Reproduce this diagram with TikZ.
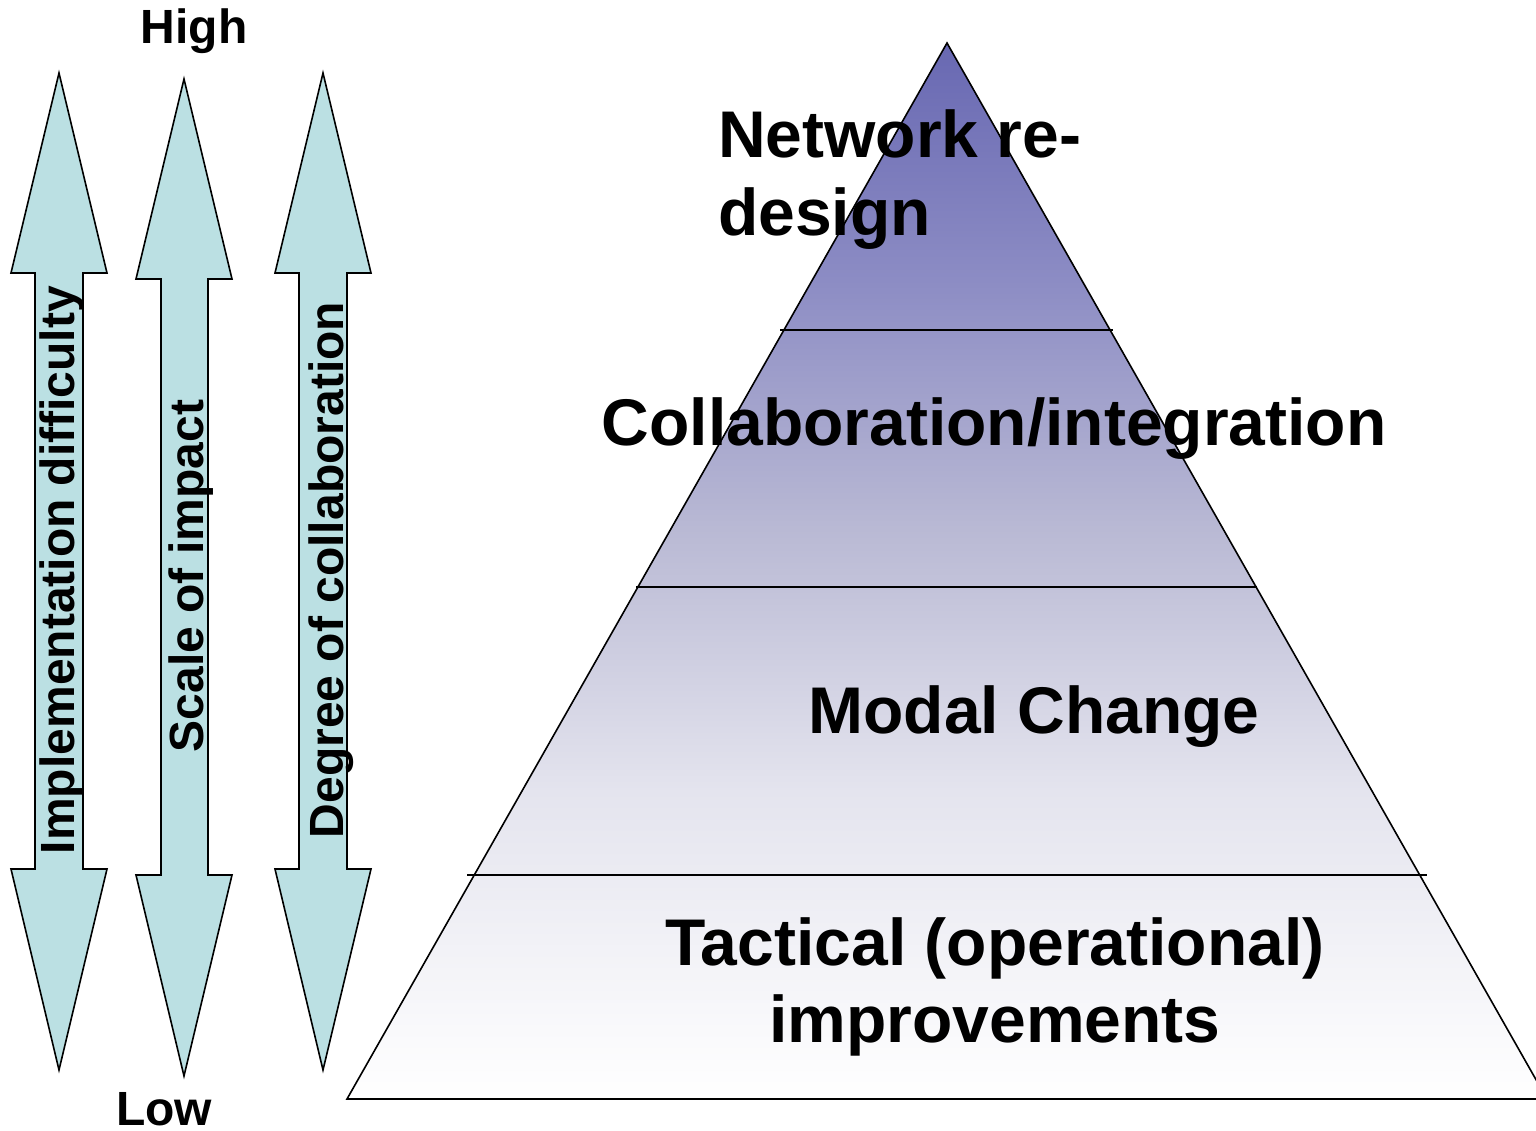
\documentclass[tikz,border=0pt]{standalone}
\usepackage{fontspec}
\setmainfont{Liberation Sans}
\definecolor{arrowfill}{RGB}{187,224,227}
\definecolor{pyrtop}{RGB}{104,104,178}
\definecolor{pyrc1}{RGB}{140,140,196}
\definecolor{pyrc2}{RGB}{185,185,212}
\definecolor{pyrc3}{RGB}{228,228,238}
\pgfdeclareverticalshading{pyrshade}{100bp}{color(0bp)=(white); color(25bp)=(white); color(39.6bp)=(pyrc3); color(52bp)=(pyrc2); color(63.8bp)=(pyrc1); color(75bp)=(pyrtop); color(100bp)=(pyrtop)}
\begin{document}
\begin{tikzpicture}[x=1pt,y=-1pt,
  outline/.style={draw=black,line width=1.6pt,line join=miter},
  dblarrow/.style={outline,fill=arrowfill},
  divider/.style={draw=black,line width=1.4pt},
  bigtext/.style={font=\bfseries\fontsize{66}{78}\selectfont,inner sep=0pt},
  sidetext/.style={font=\bfseries\fontsize{48}{56}\selectfont,inner sep=0pt},
  axistext/.style={sidetext,rotate=90,anchor=base}]
\useasboundingbox (0,0) rectangle (1536,1131);
\clip (0,0) rectangle (1536,1131);
% pyramid
\shade[shading=pyrshade] (947,43) -- (347,1099) -- (1547,1099) -- cycle;
\draw[outline] (947,43) -- (347,1099) -- (1547,1099) -- cycle;
\coordinate (d1a) at (780,330); \coordinate (d1b) at (1113,330);
\coordinate (d2a) at (636,587); \coordinate (d2b) at (1257,587);
\coordinate (d3a) at (467,875); \coordinate (d3b) at (1427,875);
\draw[divider] (d1a) -- (d1b);
\draw[divider] (d2a) -- (d2b);
\draw[divider] (d3a) -- (d3b);
% double arrows
\draw[dblarrow] (59,73) -- (107,273) -- (83,273) -- (83,869) -- (107,869) -- (59,1070) -- (11,869) -- (35,869) -- (35,273) -- (11,273) -- cycle;
\draw[dblarrow] (184,79) -- (232,279) -- (208,279) -- (208,875) -- (232,875) -- (184,1076) -- (136,875) -- (161,875) -- (161,279) -- (136,279) -- cycle;
\draw[dblarrow] (323,73) -- (371,273) -- (347,273) -- (347,869) -- (371,869) -- (323,1070) -- (275,869) -- (299,869) -- (299,273) -- (275,273) -- cycle;
% axis texts
\node[axistext] (impl) at (74,570) {Implementation difficulty};
\node[axistext] (scale) at (203,576) {Scale of impact};
\node[axistext] (degree) at (343,570) {Degree of collaboration};
\node[sidetext,anchor=base] (high) at (194,44) {High};
\node[sidetext,anchor=base] (low) at (164,1125) {Low};
% pyramid labels
\node[bigtext,anchor=base west] (net1) at (718,158) {Network re-};
\node[bigtext,anchor=base west] (net2) at (718,236) {design};
\node[bigtext,anchor=base] (collab) at (994,445) {Collaboration/integration};
\node[bigtext,anchor=base] (modal) at (1034,733) {Modal Change};
\node[bigtext,anchor=base] (tact1) at (995,965) {Tactical (operational)};
\node[bigtext,anchor=base] (tact2) at (995,1042) {improvements};
\end{tikzpicture}
\end{document}
